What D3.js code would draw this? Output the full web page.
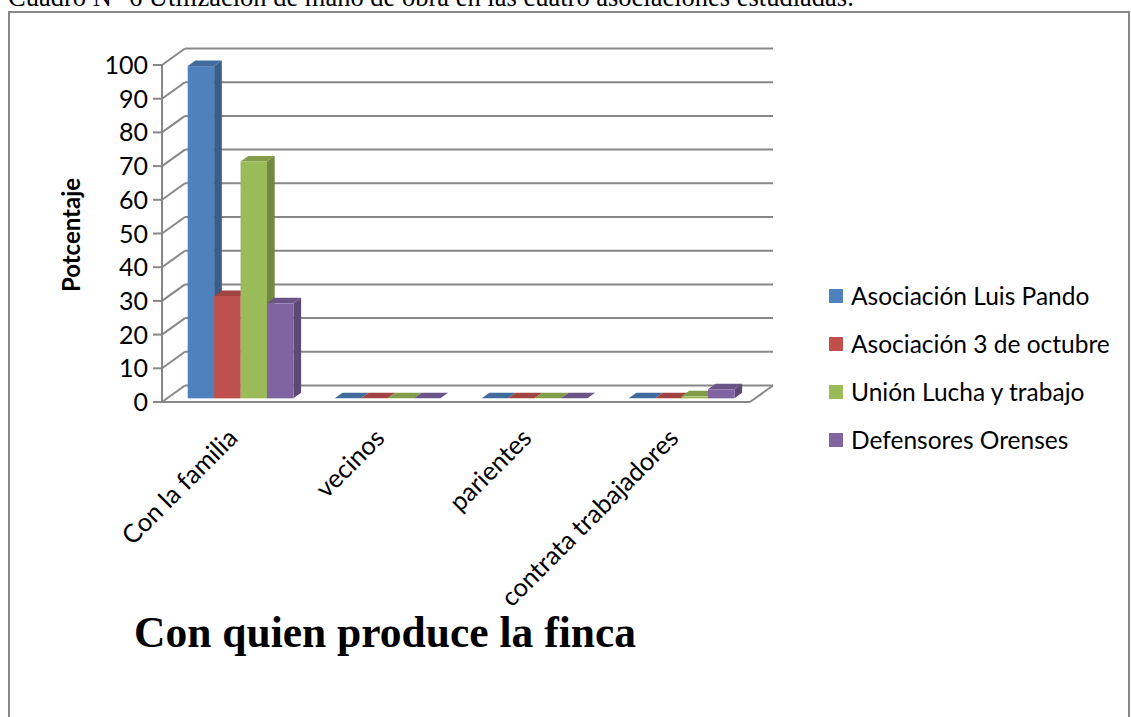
<!DOCTYPE html>
<html>
<head>
<meta charset="utf-8">
<script src="https://cdn.jsdelivr.net/npm/d3@7"></script>
<style>
  html, body { margin: 0; padding: 0; background: #fff; }
  svg { display: block; }
</style>
</head>
<body>
<svg id="chart" width="1131" height="717"></svg>
<script>
// Data: share of households by who works the farm, per association
const categories = ["Con la familia", "vecinos", "parientes", "contrata trabajadores"];
const seriesNames = ["Asociación Luis Pando", "Asociación 3 de octubre", "Unión Lucha y trabajo", "Defensores Orenses"];
const luisPando   = [98.6, 0, 0, 0];
const tresOctubre = [30.4, 0, 0, 0];
const unionLucha  = [70.3, 0, 0, 0.6];
const defensores  = [28.2, 0, 0, 2.7];
const seriesValues = [luisPando, tresOctubre, unionLucha, defensores];
const yTicks = [0, 10, 20, 30, 40, 50, 60, 70, 80, 90, 100];
const colors = ["#4F81BD", "#C0504D", "#9BBB59", "#8064A2"];

const svg = d3.select("#chart");
const gray = "#878787";

// Outer frame and caption above it
svg.append("text")
  .attr("x", 8).attr("y", 6)
  .attr("font-family", "'Liberation Serif', 'Times New Roman', serif")
  .attr("font-size", 26.5)
  .attr("fill", "#000")
  .text("Cuadro N° 6 Utilización de mano de obra en las cuatro asociaciones estudiadas.");

svg.append("rect")
  .attr("x", 9).attr("y", 12).attr("width", 1120).attr("height", 720)
  .attr("fill", "none").attr("stroke", gray).attr("stroke-width", 2);

// 3D geometry: front plane scales plus an oblique depth vector
const x = d3.scaleBand().domain(categories).range([162, 750]);
const y = d3.scaleLinear().domain([0, 100]).range([402, 65]);
const depth = { dx: 23, dy: -16.5 };
const barZ0 = 0.22, barZ1 = 0.555;
const inner = d3.scaleBand().domain(seriesNames)
  .range([20.65, x.bandwidth() - 20.65]);

const grid = svg.append("g").attr("stroke", gray).attr("stroke-width", 2).attr("fill", "none");

// Back wall gridlines and left wall diagonals
yTicks.forEach(v => {
  const yf = y(v), yb = y(v) + depth.dy;
  grid.append("line")
    .attr("x1", x.range()[0] + depth.dx).attr("x2", x.range()[1] + depth.dx)
    .attr("y1", yb).attr("y2", yb);
  grid.append("line")
    .attr("x1", x.range()[0]).attr("y1", yf)
    .attr("x2", x.range()[0] + depth.dx).attr("y2", yb);
  grid.append("line")
    .attr("x1", x.range()[0] - 9).attr("x2", x.range()[0])
    .attr("y1", yf).attr("y2", yf);
});
// Vertical axis line
grid.append("line")
  .attr("x1", x.range()[0]).attr("x2", x.range()[0])
  .attr("y1", y(100)).attr("y2", y(0));
// Floor front edge and right edge
grid.append("line")
  .attr("x1", x.range()[0]).attr("x2", x.range()[1])
  .attr("y1", y(0)).attr("y2", y(0));
grid.append("line")
  .attr("x1", x.range()[1]).attr("y1", y(0))
  .attr("x2", x.range()[1] + depth.dx).attr("y2", y(0) + depth.dy);

// Y tick labels
svg.append("g")
  .selectAll("text").data(yTicks).join("text")
  .attr("x", 148).attr("y", d => y(d))
  .attr("dy", "0.36em")
  .attr("text-anchor", "end")
  .attr("font-family", "Lato, 'Open Sans', sans-serif")
  .attr("font-size", 25)
  .attr("fill", "#000")
  .text(d => d);

// Y axis title
svg.append("text")
  .attr("transform", "translate(80,235) rotate(-90)")
  .attr("text-anchor", "middle")
  .attr("font-family", "Lato, 'Open Sans', sans-serif")
  .attr("font-weight", "bold")
  .attr("font-size", 24)
  .attr("fill", "#000")
  .text("Potcentaje");

// Bars: side, top and front faces
const bars = svg.append("g");
categories.forEach((cat, ci) => {
  seriesNames.forEach((s, si) => {
    const v = seriesValues[si][ci];
    const base = d3.color(colors[si]);
    const ox = depth.dx * barZ0, oy = depth.dy * barZ0;
    const bx = depth.dx * (barZ1 - barZ0), by = depth.dy * (barZ1 - barZ0);
    const x0 = x(cat) + inner(s) + ox, x1 = x0 + inner.bandwidth();
    const yT = y(v) + oy, yB = y(0) + oy;
    const poly = pts => pts.map(p => p.join(",")).join(" ");
    if (v > 0) {
      bars.append("polygon")
        .attr("points", poly([[x1, yT], [x1 + bx, yT + by], [x1 + bx, yB + by], [x1, yB]]))
        .attr("fill", base.darker(0.9).formatHex());
    }
    bars.append("polygon")
      .attr("points", poly([[x0, yT], [x1, yT], [x1 + bx, yT + by], [x0 + bx, yT + by]]))
      .attr("fill", base.darker(0.5).formatHex());
    if (v > 0) {
      bars.append("rect")
        .attr("x", x0).attr("y", yT)
        .attr("width", x1 - x0).attr("height", yB - yT)
        .attr("fill", base.formatHex());
    }
  });
});

// Category labels, rotated
svg.append("g")
  .selectAll("text").data(categories).join("text")
  .attr("transform", d => `translate(${x(d) + x.bandwidth() / 2 - 9},${427}) rotate(-45)`)
  .attr("text-anchor", "end")
  .attr("dy", "0.7em")
  .attr("font-family", "Lato, 'Open Sans', sans-serif")
  .attr("font-size", 25.5)
  .attr("fill", "#000")
  .text(d => d);

// X axis title
svg.append("text")
  .attr("x", 385).attr("y", 647)
  .attr("text-anchor", "middle")
  .attr("font-family", "'Liberation Serif', 'Times New Roman', serif")
  .attr("font-weight", "bold")
  .attr("font-size", 43.5)
  .attr("fill", "#000")
  .text("Con quien produce la finca");

// Legend
const legend = svg.append("g")
  .selectAll("g").data(seriesNames).join("g")
  .attr("transform", (d, i) => `translate(829,${296 + i * 48})`);
legend.append("rect")
  .attr("x", 0).attr("y", -7).attr("width", 14).attr("height", 14)
  .attr("fill", (d, i) => colors[i]);
legend.append("text")
  .attr("x", 22).attr("y", 0).attr("dy", "0.36em")
  .attr("font-family", "Lato, 'Open Sans', sans-serif")
  .attr("font-size", 24.5)
  .attr("fill", "#000")
  .text(d => d);
</script>
</body>
</html>
